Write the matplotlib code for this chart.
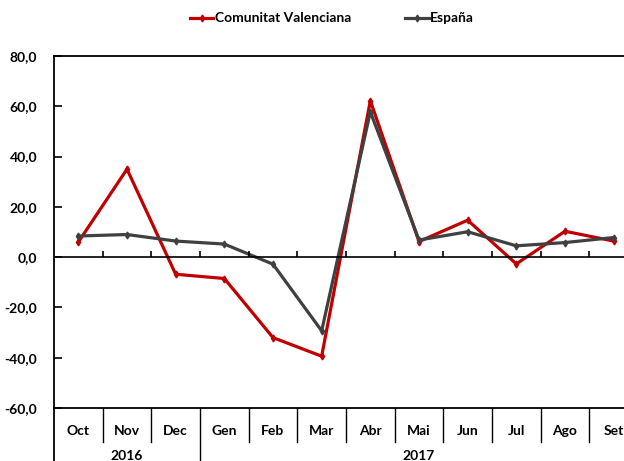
import matplotlib.pyplot as plt
import numpy as np

months = ["Oct", "Nov", "Dec", "Gen", "Feb", "Mar", "Abr", "Mai", "Jun", "Jul", "Ago", "Set"]
years = ["2016", "2017"]
year_spans = [(0, 2), (3, 11)]
cv = [6.0, 35.0, -6.8, -8.5, -32.0, -39.4, 62.2, 6.2, 14.7, -2.7, 10.3, 6.4]
es = [8.4, 9.0, 6.4, 5.2, -2.8, -29.3, 57.8, 6.8, 10.1, 4.5, 5.8, 7.8]

plt.rcParams["font.family"] = ["Lato", "DejaVu Sans"]
plt.rcParams["font.weight"] = "bold"

fig = plt.figure(figsize=(6.24, 4.61), dpi=100)
W, H = 624, 461
L, R, T, B = 54, 638, 56, 408
ax = fig.add_axes([L / W, 1 - B / H, (R - L) / W, (B - T) / H])

x = np.arange(len(months))
ax.plot(x, cv, color="#C00000", lw=2.3, marker="d", ms=3.5, label="Comunitat Valenciana")
ax.plot(x, es, color="#404040", lw=2.3, marker="d", ms=3.5, label="España")

ax.set_xlim(-0.5, len(months) - 0.5)
ax.set_ylim(-60, 80)
ax.set_yticks(np.arange(-60, 81, 20))
ax.set_yticklabels([f"{v:.1f}".replace(".", ",") for v in np.arange(-60, 81, 20)], fontsize=10, fontweight="bold")
ax.tick_params(axis="y", direction="in", length=6, width=1.2, pad=12)

ax.set_xticks(x)
ax.set_xticklabels(months, fontsize=10, fontweight="bold")
ax.tick_params(axis="x", length=0, pad=12)

for s in ax.spines.values():
    s.set_linewidth(1.3)
    s.set_color("black")

# category axis at zero with boundary ticks
ax.axhline(0, color="black", lw=1.2)
bounds = np.arange(0.5, len(months) - 1, 1.0)
ax.vlines(bounds, 0, 2.4, color="black", lw=1.2)

# separators under the plot
xt = ax.get_xaxis_transform()
for b in bounds:
    low = -0.16 if b == 2.5 else -0.097
    ax.plot([b, b], [0, low], color="black", lw=1.0, transform=xt, clip_on=False)
ax.plot([-0.5, -0.5], [0, -0.16], color="black", lw=1.3, transform=xt, clip_on=False)

for yr, (a, b) in zip(years, year_spans):
    ax.text((a + b) / 2, -0.136, yr, transform=xt, ha="center", va="center",
            fontsize=10, fontweight="bold")

fig.legend(loc="upper center", bbox_to_anchor=(0.532, 1.0), ncol=2, frameon=False,
           handlelength=1.7, handletextpad=0.1, columnspacing=3.9,
           prop={"weight": "bold", "size": 10})

fig.savefig("out.png", dpi=100)
